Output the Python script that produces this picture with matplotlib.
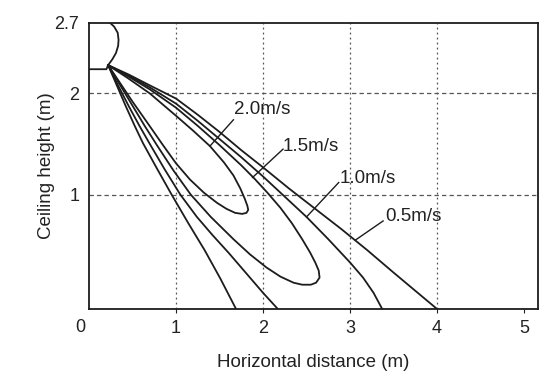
import matplotlib
matplotlib.use("Agg")
import matplotlib.pyplot as plt

plt.rcParams['font.family'] = ['Liberation Sans', 'DejaVu Sans']

# isovel contours of the diffuser jet (x = horizontal distance, y = height), in metres
vel_labels = ["2.0m/s", "1.5m/s", "1.0m/s", "0.5m/s"]

x_20 = [0.22, 0.45, 0.70, 1.00, 1.20, 1.39, 1.55, 1.66, 1.74, 1.79, 1.82, 1.83,
        1.81, 1.76, 1.68, 1.58, 1.47, 1.32, 1.16, 1.00, 0.85, 0.68, 0.50, 0.36, 0.22]
y_20 = [2.28, 2.15, 2.00, 1.78, 1.63, 1.48, 1.32, 1.19, 1.06, 0.96, 0.89, 0.85,
        0.82, 0.81, 0.82, 0.86, 0.92, 1.02, 1.15, 1.31, 1.49, 1.70, 1.92, 2.10, 2.28]

x_15 = [0.22, 0.45, 0.70, 1.00, 1.25, 1.50, 1.75, 1.90, 2.05, 2.20, 2.33, 2.45, 2.54, 2.60, 2.64,
        2.65, 2.61, 2.55, 2.45, 2.35, 2.20, 2.04, 1.85, 1.66, 1.40, 1.17, 0.97, 0.78, 0.64, 0.50,
        0.36, 0.22]
y_15 = [2.28, 2.17, 2.04, 1.86, 1.68, 1.49, 1.29, 1.16, 1.02, 0.87, 0.72, 0.56, 0.43, 0.33, 0.25,
        0.18, 0.13, 0.11, 0.11, 0.13, 0.19, 0.28, 0.41, 0.56, 0.78, 1.00, 1.24, 1.49, 1.68, 1.88,
        2.08, 2.28]

x_10 = [2.17, 2.00, 1.80, 1.61, 1.42, 1.24, 1.05, 0.87, 0.70, 0.58, 0.46, 0.34, 0.22,
        0.45, 0.70, 1.00, 1.25, 1.50, 1.75, 2.00, 2.25, 2.50, 2.75, 3.00, 3.15, 3.27, 3.37]
y_10 = [-0.13, 0.03, 0.23, 0.42, 0.60, 0.78, 1.00, 1.25, 1.50, 1.68, 1.87, 2.07, 2.28,
        2.18, 2.06, 1.90, 1.73, 1.55, 1.37, 1.18, 0.98, 0.78, 0.56, 0.33, 0.18, 0.03, -0.13]

x_05 = [1.69, 1.51, 1.33, 1.14, 0.95, 0.78, 0.62, 0.52, 0.42, 0.32, 0.22,
        0.45, 0.70, 1.00, 1.25, 1.50, 1.75, 2.00, 2.30, 2.60, 2.90, 3.20, 3.50, 3.75, 4.00]
y_05 = [-0.13, 0.17, 0.45, 0.72, 1.00, 1.26, 1.51, 1.69, 1.88, 2.08, 2.28,
        2.19, 2.08, 1.95, 1.79, 1.62, 1.44, 1.27, 1.06, 0.86, 0.66, 0.45, 0.23, 0.05, -0.13]

# diffuser outline at the ceiling
ceil_x = [0.0, 0.20, 0.22]
ceil_y = [2.24, 2.24, 2.28]
arc_x = [0.22, 0.27, 0.31, 0.335, 0.34, 0.33, 0.29, 0.24]
arc_y = [2.28, 2.34, 2.40, 2.47, 2.53, 2.60, 2.66, 2.70]

# label text position and the point on the contour the leader goes to
label_pos = [(1.99, 1.84), (2.55, 1.48), (3.20, 1.16), (3.73, 0.78)]
leader_start = [(1.66, 1.74), (2.23, 1.45), (2.87, 1.12), (3.38, 0.74)]
leader_end = [(1.39, 1.48), (1.88, 1.17), (2.50, 0.78), (3.06, 0.55)]

x_ticks = [1, 2, 3, 4, 5]
y_ticks = [1, 2, 2.7]
y_ticklabels = ["1", "2", "2.7"]

fig = plt.figure(figsize=(5.52, 3.87), dpi=100)
ax = fig.add_axes([0.1612, 0.2016, 0.8134, 0.7398])
ax.set_xlim(0, 5.16)
ax.set_ylim(-0.13, 2.7)

line_kw = dict(color="#1c1c1c", lw=1.3, solid_joinstyle="round")
for xs, ys in [(x_20, y_20), (x_15, y_15), (x_10, y_10), (x_05, y_05)]:
    ax.plot(xs, ys, **line_kw)
ax.plot(ceil_x, ceil_y, **line_kw)
ax.plot(arc_x, arc_y, **line_kw)

for lab, (tx, ty), (sx, sy), (ex, ey) in zip(vel_labels, label_pos, leader_start, leader_end):
    ax.plot([sx, ex], [sy, ey], color="#1c1c1c", lw=1.0)
    ax.text(tx, ty, lab, ha="center", va="center", fontsize=13.5, color="#222")

# grid: dotted verticals, dashed horizontals
for xv in [1, 2, 3, 4]:
    ax.axvline(xv, color="#555", lw=0.9, ls=(0, (1.5, 2.5)), zorder=0)
for yv in [1, 2]:
    ax.axhline(yv, color="#555", lw=0.9, ls=(0, (3.5, 2.5)), zorder=0)

ax.set_xticks(x_ticks)
ax.set_yticks(y_ticks)
ax.set_yticklabels(y_ticklabels)
ax.tick_params(axis="x", direction="out", length=3, width=0.8, pad=5, labelsize=13, colors="#222")
ax.tick_params(axis="y", length=0, pad=7, labelsize=13, colors="#222")
ax.annotate("0", xy=(0, 0), xycoords=("data", "axes fraction"), xytext=(-9, -19),
            textcoords="offset pixels", ha="center", va="center", fontsize=13, color="#222")

for sp in ax.spines.values():
    sp.set_linewidth(1.3)
    sp.set_color("#1c1c1c")

ax.set_xlabel("Horizontal distance (m)", fontsize=13.5, color="#222", labelpad=12)
ax.set_ylabel("Ceiling height (m)", fontsize=13.5, color="#222", labelpad=0)

fig.savefig("out.png", dpi=100)
